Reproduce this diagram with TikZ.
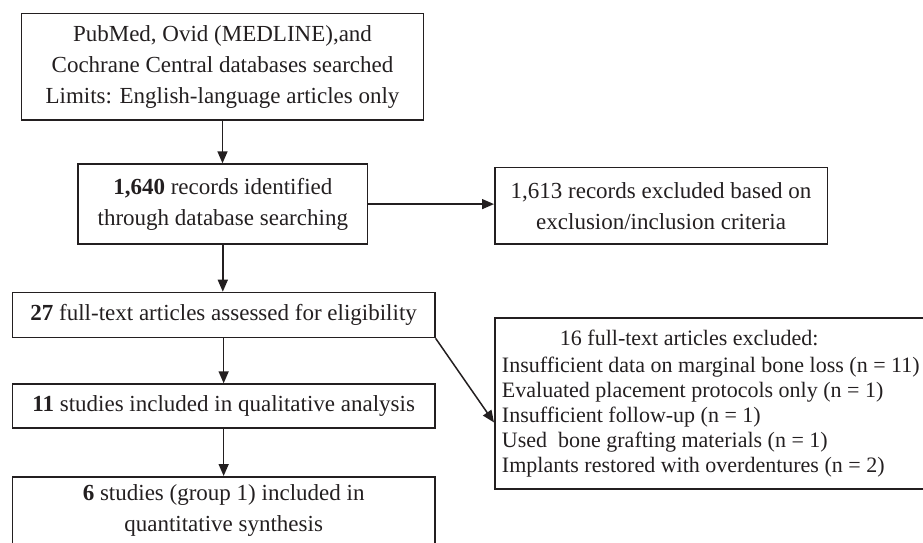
\documentclass[tikz,border=0pt]{standalone}
\usepackage{fontspec}
\setmainfont{Liberation Serif}
\usetikzlibrary{arrows.meta}
\definecolor{ink}{HTML}{231F20}
\begin{document}
\begin{tikzpicture}[x=1pt,y=-1pt,
  box/.style={draw=ink, line width=1.6pt, inner sep=0pt, align=center, anchor=north west,
    text=ink, font=\fontsize{23}{31}\selectfont},
  arr/.style={draw=ink, line width=1.5pt, -{Triangle[length=12pt,width=10pt]}}]
\useasboundingbox (0,0) rectangle (923,542);
\node[box, minimum width=402pt, minimum height=106.6pt] (src) at (20.7,12.7)
  {PubMed, Ovid (MEDLINE),and\\Cochrane Central databases searched\\Limits: English-language articles only};
\node[box, minimum width=289.4pt, minimum height=80pt] (rec) at (77.3,163.3)
  {\textbf{1,640} records identified\\through database searching};
\node[box, minimum width=332.5pt, minimum height=76.6pt] (exc) at (494,166.7)
  {1,613 records excluded based on\\exclusion/inclusion criteria};
\node[box, minimum width=422.3pt, minimum height=45pt] (full) at (11.7,291.7)
  {\textbf{27} full-text articles assessed for eligibility};
\node[box, minimum width=422.3pt, minimum height=44pt] (qual) at (11.7,383.3)
  {\textbf{11} studies included in qualitative analysis};
\node[box, minimum width=422.3pt, minimum height=68pt] (quant) at (11.7,476)
  {\textbf{6} studies (group 1) included in\\quantitative synthesis};
\node[box, align=left, minimum width=432pt, minimum height=170.7pt,
  font=\fontsize{22}{25}\selectfont] (ex16) at (494,317.3)
  {\hspace*{58pt}16 full-text articles excluded:\\[1.5pt]
   Insufficient data on marginal bone loss (n = 11)\\
   Evaluated placement protocols only (n = 1)\\
   Insufficient follow-up (n = 1)\\
   Used\ \ bone grafting materials (n = 1)\\
   Implants restored with overdentures (n = 2)};
\draw[arr] (src.south) -- (src.south |- rec.north);
\draw[arr] (rec.east) -- (rec.east -| exc.west);
\draw[arr] (rec.south) -- (rec.south |- full.north);
\draw[arr] (full.south) -- (full.south |- qual.north);
\draw[arr] (qual.south) -- (qual.south |- quant.north);
\draw[arr] (full.south east) -- ([yshift=-19pt]ex16.west);
\end{tikzpicture}
\end{document}
